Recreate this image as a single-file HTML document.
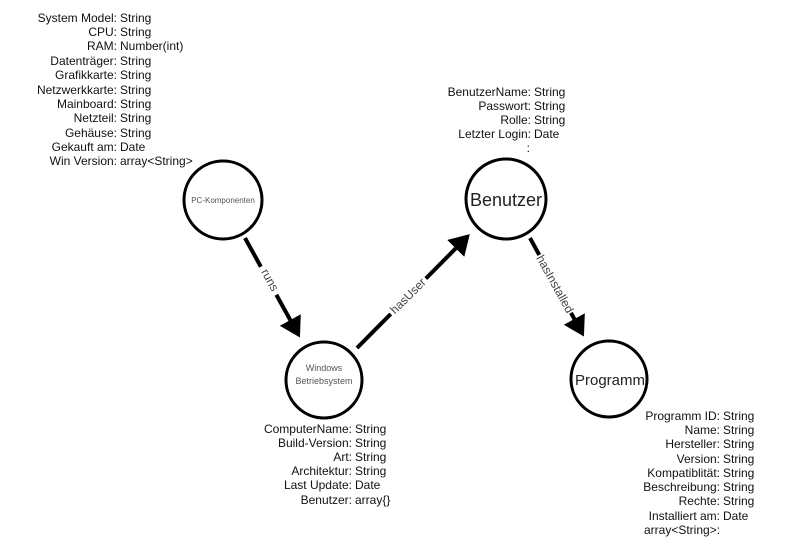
<!DOCTYPE html>
<html><head><meta charset="utf-8"><style>
html,body{margin:0;padding:0;background:#fff;}
svg{display:block;font-family:"Liberation Sans",sans-serif;}
</style></head><body>
<svg width="799" height="552" viewBox="0 0 799 552" xmlns="http://www.w3.org/2000/svg">
<defs>
<marker id="ah" markerWidth="6" markerHeight="6" refX="4" refY="3" orient="auto" markerUnits="strokeWidth">
<path d="M0,0 L5,3 L0,6 Z" fill="#000"/>
</marker>
</defs>

<g fill="#fff" stroke="#000" stroke-width="3">
<circle cx="223" cy="200" r="39"/>
<circle cx="324" cy="380" r="38"/>
<circle cx="506" cy="199" r="40"/>
<circle cx="609" cy="379" r="38"/>
</g>
<g text-anchor="middle" fill="#555">
<text x="223" y="203" font-size="8">PC-Komponenten</text>
<text x="324" y="371" font-size="9">Windows</text>
<text x="324" y="384" font-size="9">Betriebsystem</text>
<text x="506" y="206" font-size="18" fill="#222">Benutzer</text>
<text x="610" y="385" font-size="15" fill="#222">Programm</text>
</g>

<g font-size="12" fill="#111">
<g text-anchor="end">
<text x="117" y="22">System Model:</text>
<text x="117" y="36">CPU:</text>
<text x="117" y="50">RAM:</text>
<text x="117" y="65">Datenträger:</text>
<text x="117" y="79">Grafikkarte:</text>
<text x="117" y="94">Netzwerkkarte:</text>
<text x="117" y="108">Mainboard:</text>
<text x="117" y="122">Netzteil:</text>
<text x="117" y="137">Gehäuse:</text>
<text x="117" y="151">Gekauft am:</text>
<text x="117" y="165">Win Version:</text>
</g>
<g>
<text x="120" y="22">String</text>
<text x="120" y="36">String</text>
<text x="120" y="50">Number(int)</text>
<text x="120" y="65">String</text>
<text x="120" y="79">String</text>
<text x="120" y="94">String</text>
<text x="120" y="108">String</text>
<text x="120" y="122">String</text>
<text x="120" y="137">String</text>
<text x="120" y="151">Date</text>
<text x="120" y="165">array&lt;String&gt;</text>
</g>

<g text-anchor="end">
<text x="531" y="96">BenutzerName:</text>
<text x="531" y="110">Passwort:</text>
<text x="531" y="124">Rolle:</text>
<text x="531" y="138">Letzter Login:</text>
<text x="530" y="152">:</text>
</g>
<g>
<text x="534" y="96">String</text>
<text x="534" y="110">String</text>
<text x="534" y="124">String</text>
<text x="534" y="138">Date</text>
</g>

<g text-anchor="end">
<text x="352" y="433">ComputerName:</text>
<text x="352" y="447">Build-Version:</text>
<text x="352" y="461">Art:</text>
<text x="352" y="475">Architektur:</text>
<text x="352" y="489">Last Update:</text>
<text x="352" y="504">Benutzer:</text>
</g>
<g>
<text x="355" y="433">String</text>
<text x="355" y="447">String</text>
<text x="355" y="461">String</text>
<text x="355" y="475">String</text>
<text x="355" y="489">Date</text>
<text x="355" y="504">array{}</text>
</g>

<g text-anchor="end">
<text x="720" y="420">Programm ID:</text>
<text x="720" y="434">Name:</text>
<text x="720" y="448">Hersteller:</text>
<text x="720" y="463">Version:</text>
<text x="720" y="477">Kompatiblität:</text>
<text x="720" y="491">Beschreibung:</text>
<text x="720" y="505">Rechte:</text>
<text x="720" y="520">Installiert am:</text>
</g>
<g>
<text x="723" y="420">String</text>
<text x="723" y="434">String</text>
<text x="723" y="448">String</text>
<text x="723" y="463">String</text>
<text x="723" y="477">String</text>
<text x="723" y="491">String</text>
<text x="723" y="505">String</text>
<text x="723" y="520">Date</text>
<text x="644" y="534">array&lt;String&gt;:</text>
</g>
</g>

<g stroke="#000" stroke-width="4" fill="none">
<line x1="245" y1="238" x2="298" y2="334" marker-end="url(#ah)"/>
<line x1="357" y1="348" x2="467" y2="237" marker-end="url(#ah)"/>
<line x1="530" y1="238" x2="582" y2="333" marker-end="url(#ah)"/>
</g>
<g font-size="12" fill="#444" text-anchor="middle">
<g transform="translate(270,280) rotate(61)"><rect x="-16" y="-8" width="32" height="14" fill="#fff"/><text x="0" y="4">runs</text></g>
<g transform="translate(408,296) rotate(-45)"><rect x="-25" y="-8" width="50" height="14" fill="#fff"/><text x="0" y="4">hasUser</text></g>
<g transform="translate(555,284) rotate(61)"><rect x="-33" y="-8" width="66" height="14" fill="#fff"/><text x="0" y="4">hasInstalled</text></g>
</g>
</svg>
</body></html>
